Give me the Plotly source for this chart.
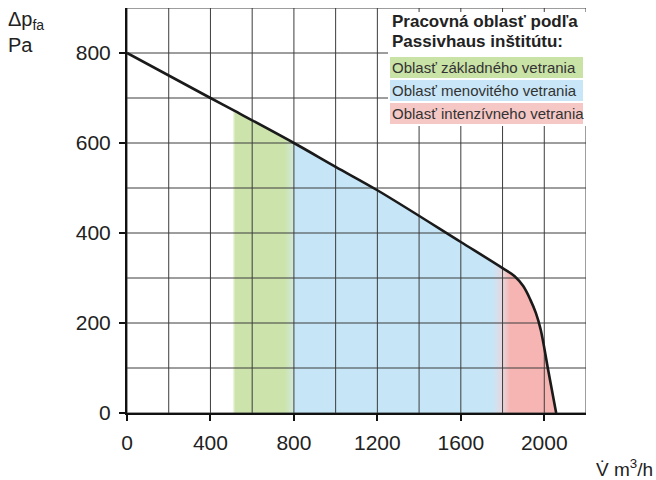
import plotly.graph_objects as go

# ---- data ----
flow = [0, 400, 505, 800, 1000, 1200, 1600, 1800, 1858, 1899, 1933, 1960, 1983, 2020, 2057]
pressure = [800, 700, 674, 600, 547, 495, 380, 322, 304, 282, 252, 222, 185, 92, 0]

zone_bounds = [505, 800, 1800, 2057]
zone_labels = ["Oblasť základného vetrania", "Oblasť menovitého vetrania", "Oblasť intenzívneho vetrania"]
zone_colors = ["#cce3ab", "#c6e6f8", "#f6b5b2"]
legend_colors = ["#c9e2a6", "#c8e6f7", "#f6c8c5"]

x_ticks = [0, 400, 800, 1200, 1600, 2000]
y_ticks = [0, 200, 400, 600, 800]
x_range = [0, 2200]
y_range = [0, 900]
x_grid_step = 200
y_grid_step = 100

FONT = "Liberation Sans, Arial, Helvetica, sans-serif"

fig = go.Figure()

# gradient filled working area under the curve
fx = [x for x in flow if x >= zone_bounds[0]]
fy = [y for x, y in zip(flow, pressure) if x >= zone_bounds[0]]
x0, x3 = zone_bounds[0], zone_bounds[-1]
def f(v):
    return (v - x0) / (x3 - x0)
cs = [
    [0.0, "#ffffff"],
    [f(x0 + 14), zone_colors[0]],
    [f(zone_bounds[1] - 45), zone_colors[0]],
    [f(zone_bounds[1] - 2), "#d2e8da"],
    [f(zone_bounds[1] + 2), zone_colors[1]],
    [f(zone_bounds[2] - 50), zone_colors[1]],
    [f(zone_bounds[2]), "#e6d8de"],
    [f(zone_bounds[2] + 35), zone_colors[2]],
    [1.0, zone_colors[2]],
]
SPL = dict(shape="spline", smoothing=1.0)
fig.add_trace(go.Scatter(
    x=fx, y=fy, mode="lines", line=dict(width=0, **SPL),
    fill="tozeroy", fillgradient=dict(type="horizontal", colorscale=cs, start=x0, stop=x3),
    hoverinfo="skip", showlegend=False,
))

# grid drawn above the fill
gx, gy = [], []
v = x_range[0]
while v <= x_range[1]:
    gx += [v, v, None]
    gy += [y_range[0], y_range[1], None]
    v += x_grid_step
v = y_range[0]
while v <= y_range[1]:
    gx += [x_range[0], x_range[1], None]
    gy += [v, v, None]
    v += y_grid_step
fig.add_trace(go.Scatter(x=gx, y=gy, mode="lines", line=dict(color="#3c3c3c", width=1),
                         hoverinfo="skip", showlegend=False))

# characteristic curve
fig.add_trace(go.Scatter(x=flow, y=pressure, mode="lines",
                         line=dict(color="#1a1a1a", width=2.6, **SPL),
                         showlegend=False))

axis_common = dict(showgrid=False, zeroline=False, showline=True, linecolor="#111111", linewidth=2,
                   ticks="outside", ticklen=6, tickwidth=1.5, tickcolor="#111111",
                   ticklabelstandoff=4,
                   tickfont=dict(family=FONT, size=21, color="#222222"))
fig.update_xaxes(range=x_range, tickvals=x_ticks, ticktext=[str(t) for t in x_ticks], **axis_common)
fig.update_yaxes(range=y_range, tickvals=y_ticks, ticktext=[str(t) for t in y_ticks], **axis_common)

# legend box (paper coordinates)
L, R, T, B = 127, 586, 8, 413
def px(xp):
    return (xp - L) / (R - L)
def py(yp):
    return (B - yp) / (B - T)

shapes = [dict(type="rect", xref="paper", yref="paper", x0=px(388), x1=px(586), y0=py(126), y1=py(12),
               fillcolor="white", line=dict(width=0), layer="above")]
rows = [(57, 78), (80, 101), (103, 124)]
annotations = []
for (t, b), lab, col in zip(rows, zone_labels, legend_colors):
    shapes.append(dict(type="rect", xref="paper", yref="paper", x0=px(390), x1=px(583), y0=py(b), y1=py(t),
                       fillcolor=col, line=dict(width=0), layer="above"))
    annotations.append(dict(xref="paper", yref="paper", x=px(390), y=py((t + b) / 2), text=lab,
                            xanchor="left", yanchor="middle", showarrow=False,
                            font=dict(family=FONT, size=15, color="#333333")))
annotations.append(dict(xref="paper", yref="paper", x=px(390), y=py(22), text="<b>Pracovná oblasť podľa</b>",
                        xanchor="left", yanchor="middle", showarrow=False,
                        font=dict(family=FONT, size=17, color="#222222")))
annotations.append(dict(xref="paper", yref="paper", x=px(390), y=py(42), text="<b>Passivhaus inštitútu:</b>",
                        xanchor="left", yanchor="middle", showarrow=False,
                        font=dict(family=FONT, size=17, color="#222222")))
# axis titles
annotations.append(dict(xref="paper", yref="paper", x=px(6), y=py(6), text="Δp<sub>fa</sub><br>Pa",
                        xanchor="left", yanchor="top", showarrow=False, align="left",
                        font=dict(family=FONT, size=20, color="#222222")))
annotations.append(dict(xref="paper", yref="paper", x=px(655), y=py(468), text="V̇ m<sup>3</sup>/h",
                        xanchor="right", yanchor="middle", showarrow=False,
                        font=dict(family=FONT, size=19, color="#222222")))

fig.update_layout(
    width=656, height=480,
    margin=dict(l=L, r=656 - R, t=T, b=480 - B),
    plot_bgcolor="white", paper_bgcolor="white",
    shapes=shapes, annotations=annotations,
    showlegend=False,
)
fig.write_html("out.html", config={"displayModeBar": False},
               post_script="document.body.style.margin='0';document.body.style.overflow='hidden';")
